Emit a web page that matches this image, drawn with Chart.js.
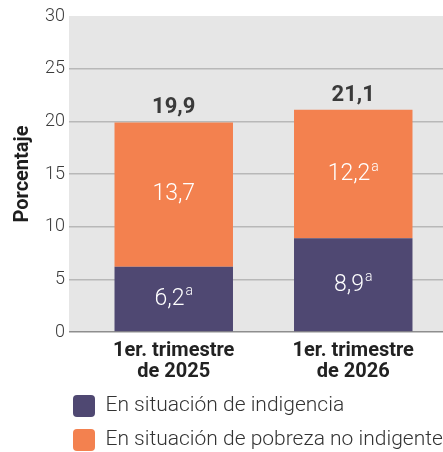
<!DOCTYPE html>
<html>
<head>
<meta charset="utf-8">
<script src="https://cdn.jsdelivr.net/npm/chart.js@4/dist/chart.umd.min.js"></script>
<style>
  html, body { margin: 0; padding: 0; background: #fff; }
  #wrap { width: 443px; height: 452px; }
</style>
</head>
<body>
<div id="wrap"><canvas id="myChart"></canvas></div>
<script>
const categories = [['1er. trimestre', 'de 2025'], ['1er. trimestre', 'de 2026']];
const indigencia = [6.2, 8.9];
const pobrezaNoIndigente = [13.7, 12.2];
const indigenciaNotes = ['a', 'a'];
const pobrezaNotes = ['', 'a'];
const seriesNames = ['En situación de indigencia', 'En situación de pobreza no indigente'];
const yTicks = [0, 5, 10, 15, 20, 25, 30];

const fmt = v => v.toFixed(1).replace('.', ',');

// draws value labels inside the segments and the totals on top
const barLabels = {
  id: 'barLabels',
  afterDatasetsDraw(chart) {
    const ctx = chart.ctx;
    const notes = [indigenciaNotes, pobrezaNotes];
    ctx.save();
    chart.data.datasets.forEach((ds, di) => {
      const meta = chart.getDatasetMeta(di);
      meta.data.forEach((bar, i) => {
        const p = bar.getCenterPoint();
        const txt = fmt(ds.data[i]);
        const sup = notes[di][i];
        ctx.font = '300 23px Roboto';
        const w = ctx.measureText(txt).width;
        ctx.font = '300 14px Roboto';
        const ws = sup ? ctx.measureText(sup).width + 1 : 0;
        const x0 = p.x - (w + ws) / 2;
        ctx.fillStyle = '#ffffff';
        ctx.textBaseline = 'middle';
        ctx.textAlign = 'left';
        ctx.font = '300 23px Roboto';
        ctx.fillText(txt, x0, p.y);
        if (sup) {
          ctx.font = '300 14px Roboto';
          ctx.fillText(sup, x0 + w + 1, p.y - 7);
        }
      });
    });
    const top = chart.getDatasetMeta(chart.data.datasets.length - 1);
    top.data.forEach((bar, i) => {
      const total = indigencia[i] + pobrezaNoIndigente[i];
      ctx.font = 'bold 22px Roboto';
      ctx.fillStyle = '#3a3a3a';
      ctx.textAlign = 'center';
      ctx.textBaseline = 'alphabetic';
      ctx.fillText(fmt(total), bar.x, bar.y - 9);
    });
    ctx.restore();
  }
};

// grey plot background, stretched over the tick marks on the left
const plotBg = {
  id: 'plotBg',
  beforeDraw(chart) {
    const {ctx, chartArea} = chart;
    const tl = chart.options.scales.y.grid.tickLength;
    ctx.save();
    ctx.fillStyle = '#e6e6e6';
    ctx.fillRect(chartArea.left - tl, chartArea.top, chartArea.right - chartArea.left + tl, chartArea.bottom - chartArea.top);
    ctx.restore();
  }
};

// line the legend up with the start of the grey area
const legendShift = {
  id: 'legendShift',
  afterLayout(chart) {
    const tl = chart.options.scales.y.grid.tickLength;
    const pad = chart.options.plugins.legend.labels.padding;
    chart.legend.left = chart.chartArea.left - tl + 4 - pad;
  }
};

new Chart(document.getElementById('myChart'), {
  type: 'bar',
  data: {
    labels: categories,
    datasets: [
      {
        label: seriesNames[0],
        data: indigencia,
        backgroundColor: '#4f4872'
      },
      {
        label: seriesNames[1],
        data: pobrezaNoIndigente,
        backgroundColor: '#f3814f'
      }
    ]
  },
  options: {
    responsive: true,
    maintainAspectRatio: false,
    animation: false,
    layout: { padding: { top: 16, bottom: -9, left: 0, right: 0 } },
    datasets: { bar: { categoryPercentage: 1, barPercentage: 0.66 } },
    scales: {
      x: {
        stacked: true,
        grid: { display: false, drawTicks: false },
        border: { display: false },
        ticks: {
          color: '#222',
          font: { family: 'Roboto', size: 20, weight: 'bold', lineHeight: 1.05 },
          padding: 8,
          maxRotation: 0
        },
        afterFit(scale) { scale.height = 51; }
      },
      y: {
        stacked: true,
        min: 0,
        max: 30,
        afterBuildTicks(scale) { scale.ticks = yTicks.map(v => ({ value: v })); },
        grid: {
          color: c => c.tick.value === 0 ? '#8e8e8e' : (c.tick.value === 30 ? 'rgba(0,0,0,0)' : '#b8b8b8'),
          lineWidth: 1.5,
          tickLength: 15
        },
        border: { display: false },
        ticks: {
          color: '#3c3c3c',
          font: { family: 'Roboto', size: 18, weight: '300' },
          padding: 4
        },
        title: {
          display: true,
          text: 'Porcentaje',
          color: '#1e1e1e',
          font: { family: 'Roboto', size: 20, weight: 'bold' },
          padding: { top: 11, bottom: 0 }
        },
        afterFit(scale) { scale.width = 84; }
      }
    },
    plugins: {
      legend: {
        position: 'bottom',
        align: 'start',
        labels: {
          color: '#333',
          font: { family: 'Roboto', size: 21, weight: '300' },
          boxWidth: 22,
          boxHeight: 22,
          padding: 12,
          useBorderRadius: true,
          borderRadius: 4
        }
      },
      tooltip: { enabled: false }
    }
  },
  plugins: [plotBg, barLabels, legendShift]
});
</script>
</body>
</html>
